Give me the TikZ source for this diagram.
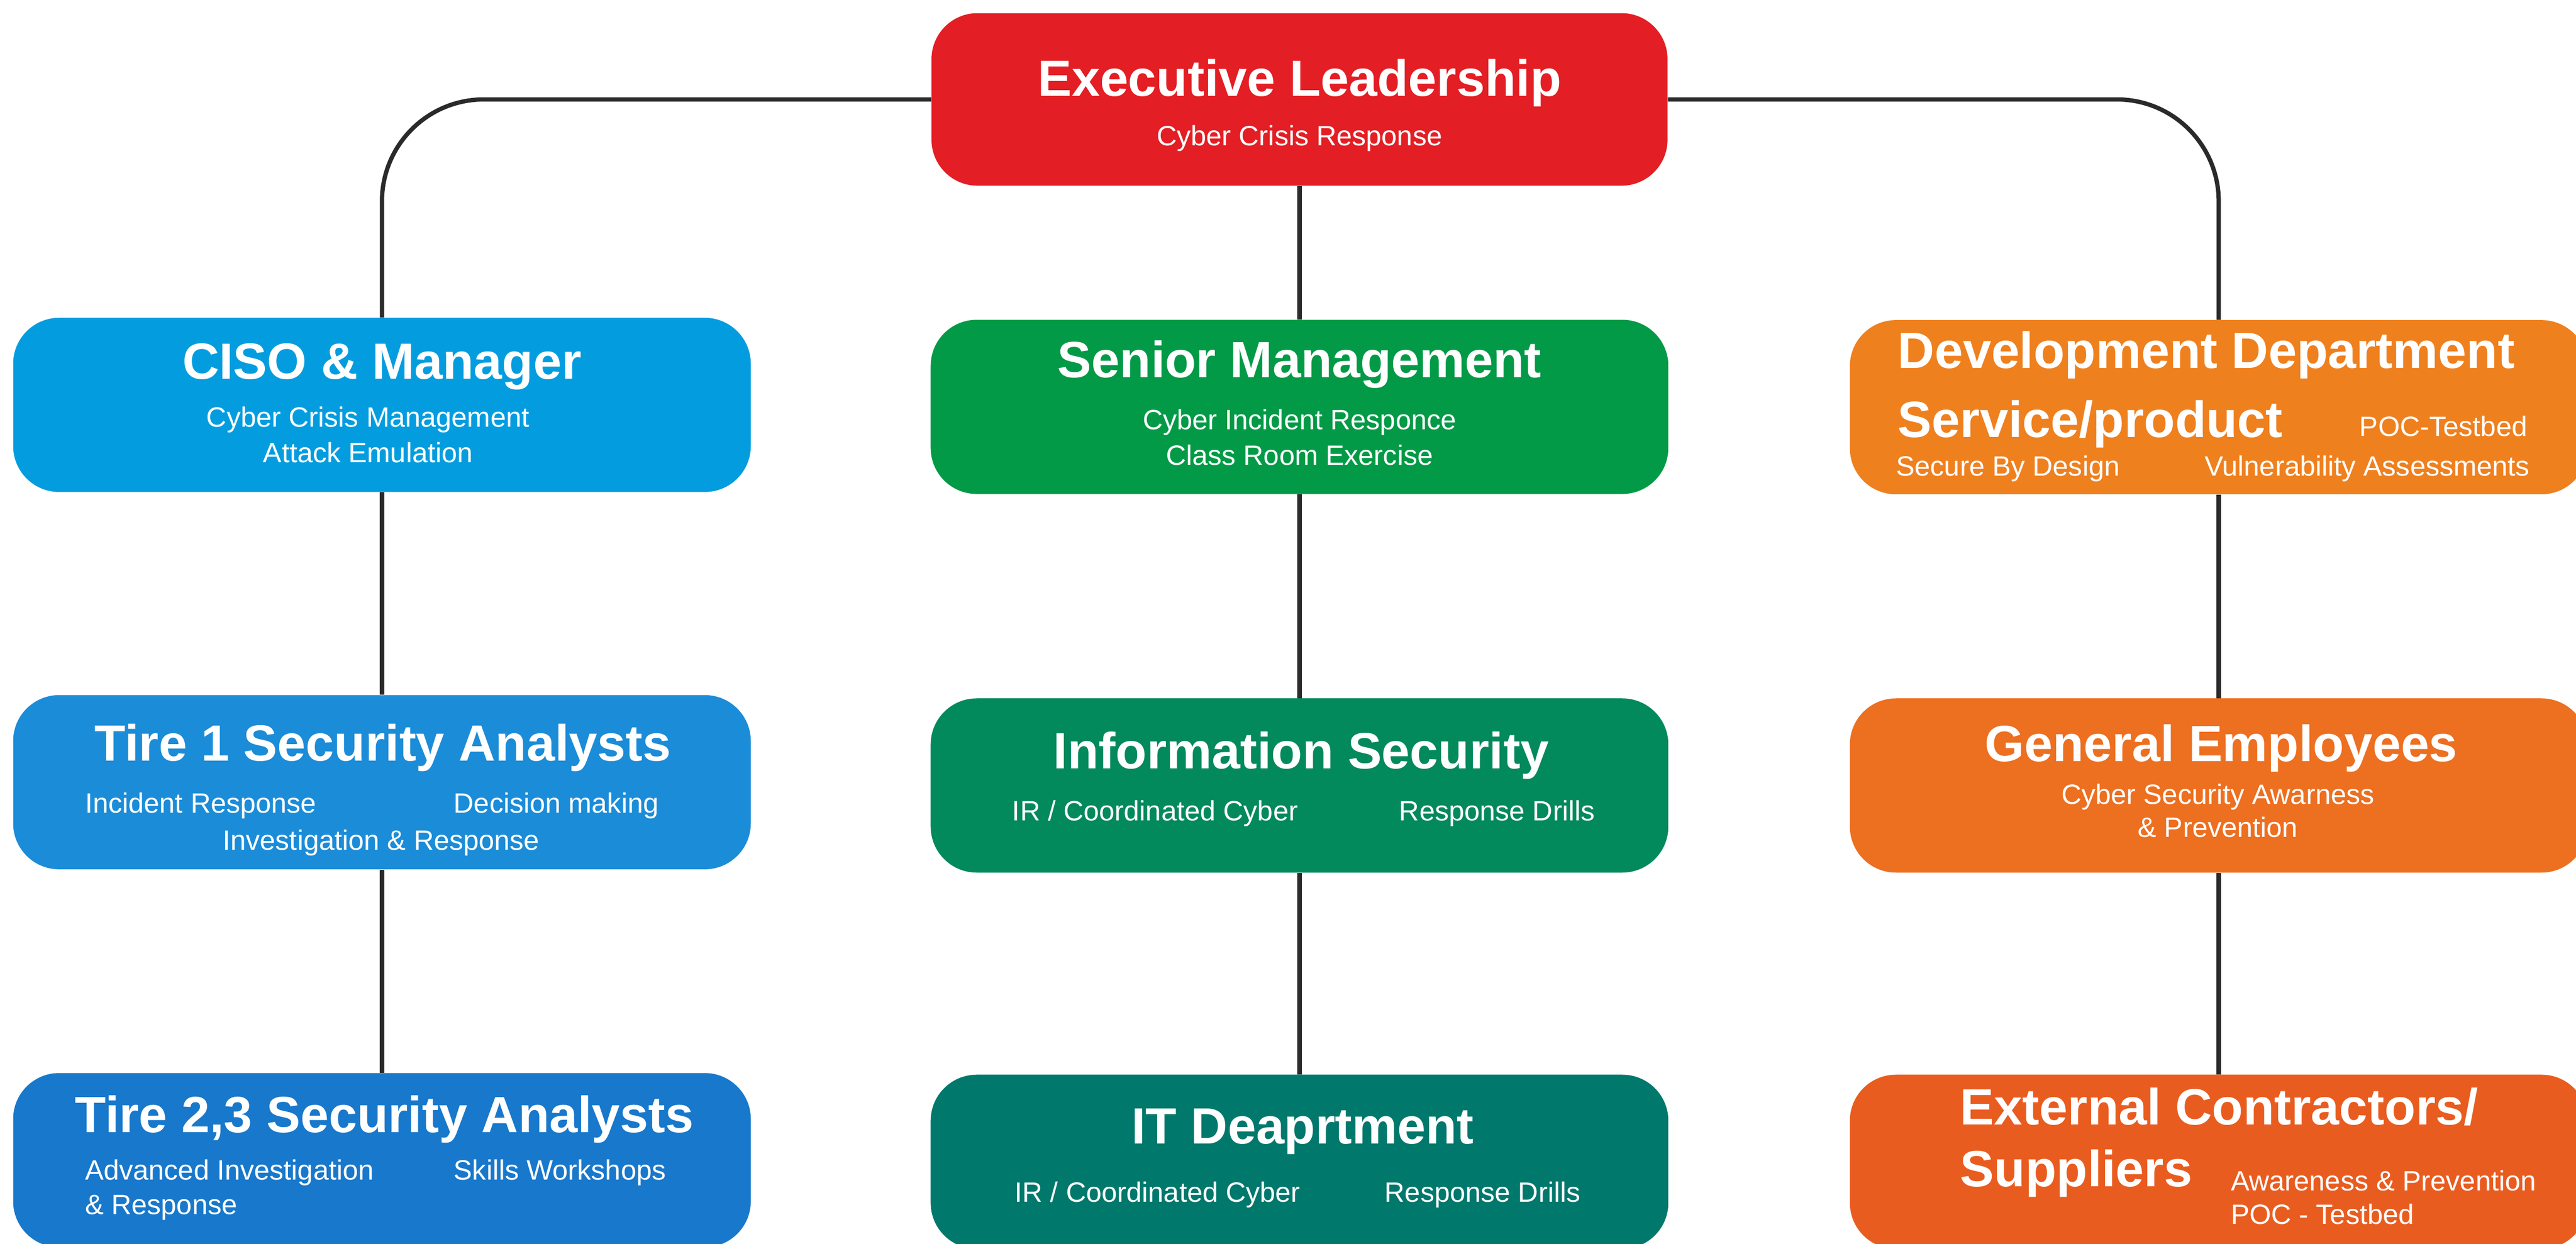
\documentclass[tikz,border=0pt]{standalone}
\usepackage{fontspec}
\setmainfont{Liberation Sans}
\usetikzlibrary{backgrounds}
\definecolor{cexec}{RGB}{227,30,36}
\definecolor{cciso}{RGB}{3,157,223}
\definecolor{ctire1}{RGB}{27,140,216}
\definecolor{ctire23}{RGB}{24,120,203}
\definecolor{csenior}{RGB}{2,154,70}
\definecolor{cinfo}{RGB}{2,137,92}
\definecolor{cit}{RGB}{1,120,108}
\definecolor{cdev}{RGB}{239,128,30}
\definecolor{cgen}{RGB}{237,111,32}
\definecolor{cext}{RGB}{233,92,31}
\definecolor{linegray}{RGB}{42,42,42}
\tikzset{
  box/.style={rectangle, rounded corners=28pt, minimum width=449pt, minimum height=106pt, inner sep=0pt},
  ttl/.style={text=white, font=\fontsize{31}{34}\selectfont\bfseries, inner sep=0pt},
  sub/.style={text=white, font=\fontsize{17}{21}\selectfont, inner sep=0pt},
  conn/.style={line width=2.6pt, draw=linegray, rounded corners=62pt}
}
\begin{document}
\begin{tikzpicture}[x=1pt,y=-1pt]
\useasboundingbox (0,0) rectangle (1568,757);
\clip (0,0) rectangle (1568,757);
% boxes
\node[box, fill=cexec, minimum width=448pt, minimum height=105pt] (exec) at (791,60.5) {};
\node[box, fill=cciso] (ciso) at (232.5,246.4) {};
\node[box, fill=csenior] (senior) at (791,247.6) {};
\node[box, fill=cdev] (dev) at (1350.5,247.8) {};
\node[box, fill=ctire1] (tire1) at (232.5,476) {};
\node[box, fill=cinfo] (info) at (791,478) {};
\node[box, fill=cgen] (gen) at (1350.5,478) {};
\node[box, fill=ctire23] (tire23) at (232.5,706) {};
\node[box, fill=cit] (it) at (791,707) {};
\node[box, fill=cext] (ext) at (1350.5,707) {};
% connectors
\begin{pgfonlayer}{background}
\fill[white] (0,0) rectangle (1568,757);
\draw[conn] (exec.west) -| (ciso.north);
\draw[conn] (exec.east) -| (dev.north);
\draw[conn] (exec.south) -- (senior.north);
\draw[conn] (ciso.south) -- (tire1.north);
\draw[conn] (tire1.south) -- (tire23.north);
\draw[conn] (senior.south) -- (info.north);
\draw[conn] (info.south) -- (it.north);
\draw[conn] (dev.south) -- (gen.north);
\draw[conn] (gen.south) -- (ext.north);
\end{pgfonlayer}
% texts: executive
\node[ttl, anchor=base] (execT) at (791,58.4) {Executive Leadership};
\node[sub, anchor=base] (execS) at (791,88.5) {Cyber Crisis Response};
% ciso
\node[ttl, anchor=base] (cisoT) at (232.5,230.5) {CISO \& Manager};
\node[sub, anchor=base] (cisoS1) at (224,259.7) {Cyber Crisis Management};
\node[sub, anchor=base] (cisoS2) at (224,281.4) {Attack Emulation};
% senior
\node[ttl, anchor=base] (seniorT) at (791,229.7) {Senior Management};
\node[sub, anchor=base] (seniorS1) at (791,261.3) {Cyber Incident Responce};
\node[sub, anchor=base] (seniorS2) at (791,283) {Class Room Exercise};
% dev
\node[ttl, anchor=base west] (devT1) at (1155,224) {Development Department};
\node[ttl, anchor=base west] (devT2) at (1155,266) {Service/product};
\node[sub, anchor=base east] (devS1) at (1538.5,265.5) {POC-Testbed};
\node[sub, anchor=base west] (devS2) at (1154,289.7) {Secure By Design};
\node[sub, anchor=base east] (devS3) at (1540,289.7) {Vulnerability Assessments};
% tire1
\node[ttl, anchor=base] (tire1T) at (233,463) {Tire 1 Security Analysts};
\node[sub, anchor=base west] (tire1S1) at (51.6,494.7) {Incident Response};
\node[sub, anchor=base west] (tire1S2) at (276,494.7) {Decision making};
\node[sub, anchor=base] (tire1S3) at (232,517.3) {Investigation \& Response};
% info
\node[ttl, anchor=base] (infoT) at (792,467.6) {Information Security};
\node[sub, anchor=base west] (infoS1) at (616,499.3) {IR / Coordinated Cyber};
\node[sub, anchor=base west] (infoS2) at (851.5,499.3) {Response Drills};
% general
\node[ttl, anchor=base] (genT) at (1352,463.4) {General Employees};
\node[sub, anchor=base] (genS1) at (1350,489.3) {Cyber Security Awarness};
\node[sub, anchor=base] (genS2) at (1350,509.4) {\& Prevention};
% tire23
\node[ttl, anchor=base] (tire23T) at (234,689) {Tire 2,3 Security Analysts};
\node[sub, anchor=base west] (tire23S1) at (51.6,718) {Advanced Investigation};
\node[sub, anchor=base west] (tire23S2) at (276,718) {Skills Workshops};
\node[sub, anchor=base west] (tire23S3) at (51.6,739) {\& Response};
% it
\node[ttl, anchor=base] (itT) at (793,696) {IT Deaprtment};
\node[sub, anchor=base west] (itS1) at (617.5,731.5) {IR / Coordinated Cyber};
\node[sub, anchor=base west] (itS2) at (842.7,731.5) {Response Drills};
% external
\node[ttl, anchor=base west] (extT1) at (1193,684.4) {External Contractors/};
\node[ttl, anchor=base west] (extT2) at (1193,722) {Suppliers};
\node[sub, anchor=base west] (extS1) at (1357.7,724.5) {Awareness \& Prevention};
\node[sub, anchor=base west] (extS2) at (1357.7,745) {POC - Testbed};
\end{tikzpicture}
\end{document}
